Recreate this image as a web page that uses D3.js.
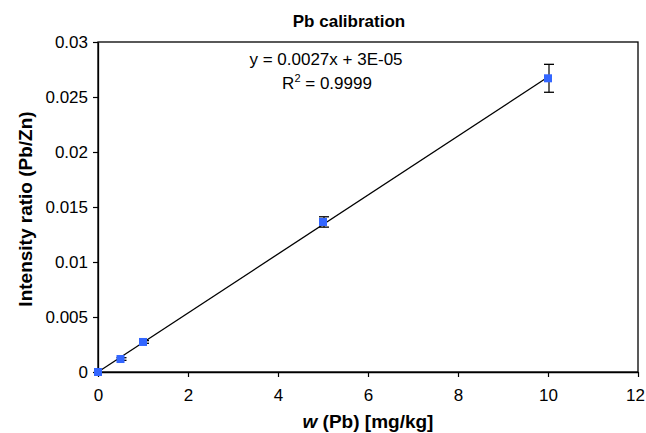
<!DOCTYPE html>
<meta charset="utf-8">
<style>
    body { margin:0; background:#fff; }
    text { font-family:'Liberation Sans', Arial, sans-serif; fill:#000; }
</style>
<body>
<script src="https://cdn.jsdelivr.net/npm/d3@7"></script>
<script>
// data
var conc = [0, 0.5, 1, 5, 10];
var ratio = [0, 0.00118, 0.00273, 0.01364, 0.0267];
var ratioErr = [0, 0.00012, 0.00012, 0.00047, 0.00127];
var xTicks = [0, 2, 4, 6, 8, 10, 12];
var yTicks = [0, 0.005, 0.01, 0.015, 0.02, 0.025, 0.03];
var yTickLabels = ['0', '0.005', '0.01', '0.015', '0.02', '0.025', '0.03'];
var eqLines = ['y = 0.0027x + 3E-05', 'R', ' = 0.9999'];

var width = 646, height = 433;
var margin = {top: 42, right: 8, bottom: 61, left: 98};

var svg = d3.select('body').append('svg')
    .attr('width', width)
    .attr('height', height);

var x = d3.scaleLinear().domain([0, 12]).range([margin.left, width - margin.right]);
var y = d3.scaleLinear().domain([0, 0.03]).range([height - margin.bottom, margin.top]);

// frame
svg.append('rect')
    .attr('x', x(0)).attr('y', y(0.03))
    .attr('width', x(12) - x(0)).attr('height', y(0) - y(0.03))
    .attr('fill', 'none').attr('stroke', '#000').attr('stroke-width', 1.3);

var xAxis = svg.append('g')
    .attr('transform', 'translate(0,' + y(0) + ')')
    .call(d3.axisBottom(x).tickValues(xTicks).tickSize(5).tickPadding(12).tickSizeOuter(0));
var yAxis = svg.append('g')
    .attr('transform', 'translate(' + x(0) + ',0)')
    .call(d3.axisLeft(y).tickValues(yTicks).tickSize(5).tickPadding(5).tickSizeOuter(0)
        .tickFormat(function(d, i) { return yTickLabels[i]; }));

[xAxis, yAxis].forEach(function(a) {
    a.select('.domain').attr('stroke', '#000').attr('stroke-width', 1.3);
    a.selectAll('.tick line').attr('stroke', '#000').attr('stroke-width', 1.2);
    a.selectAll('.tick text').style('font-size', '17px').attr('fill', '#000');
});
// last x label sits against the right edge
xAxis.selectAll('.tick text').filter(function(d) { return d === 12; }).attr('dx', -3);

// least squares trend line
var mx = d3.mean(conc), my = d3.mean(ratio);
var slope = d3.sum(conc, function(d, i) { return (d - mx) * (ratio[i] - my); }) /
    d3.sum(conc, function(d) { return (d - mx) * (d - mx); });
var icpt = my - slope * mx;
var xMax = d3.max(conc);
svg.append('line')
    .attr('x1', x(0)).attr('y1', y(icpt))
    .attr('x2', x(xMax)).attr('y2', y(icpt + slope * xMax))
    .attr('stroke', '#000').attr('stroke-width', 1.3);

// error bars
var pts = conc.map(function(d, i) { return {x: d, y: ratio[i], e: ratioErr[i]}; });
var eb = svg.append('g').selectAll('g').data(pts.filter(function(d) { return d.e > 0; })).enter().append('g');
eb.append('line')
    .attr('x1', function(d) { return x(d.x) + 1; }).attr('x2', function(d) { return x(d.x) + 1; })
    .attr('y1', function(d) { return y(d.y + d.e); }).attr('y2', function(d) { return y(d.y - d.e); })
    .attr('stroke', '#000').attr('stroke-width', 1.2);
[1, -1].forEach(function(s) {
    eb.append('line')
        .attr('x1', function(d) { return x(d.x) - 4; }).attr('x2', function(d) { return x(d.x) + 6; })
        .attr('y1', function(d) { return y(d.y + s * d.e); }).attr('y2', function(d) { return y(d.y + s * d.e); })
        .attr('stroke', '#000').attr('stroke-width', 1.3);
});

// markers
svg.append('g').selectAll('rect').data(pts).enter().append('rect')
    .attr('x', function(d) { return x(d.x) - 4; })
    .attr('y', function(d) { return y(d.y) - 4; })
    .attr('width', 8).attr('height', 8)
    .attr('fill', '#3366ff');

// title and labels
svg.append('text').attr('x', 349).attr('y', 27)
    .attr('text-anchor', 'middle').style('font-size', '17px').style('font-weight', 'bold')
    .text('Pb calibration');

var xt = svg.append('text').attr('x', 368).attr('y', 428)
    .attr('text-anchor', 'middle').style('font-size', '19px').style('font-weight', 'bold');
xt.append('tspan').style('font-style', 'italic').text('w');
xt.append('tspan').text(' (Pb) [mg/kg]');

svg.append('text')
    .attr('transform', 'translate(32,209) rotate(-90)')
    .attr('text-anchor', 'middle').style('font-size', '19px').style('font-weight', 'bold')
    .text('Intensity ratio (Pb/Zn)');

// equation
svg.append('text').attr('x', 326).attr('y', 65)
    .attr('text-anchor', 'middle').style('font-size', '17px')
    .text(eqLines[0]);
var r2 = svg.append('text').attr('x', 327).attr('y', 89)
    .attr('text-anchor', 'middle').style('font-size', '17px');
r2.append('tspan').text(eqLines[1]);
r2.append('tspan').attr('dy', -7).style('font-size', '11px').text('2');
r2.append('tspan').attr('dy', 7).text(eqLines[2]);
</script>
</body>
